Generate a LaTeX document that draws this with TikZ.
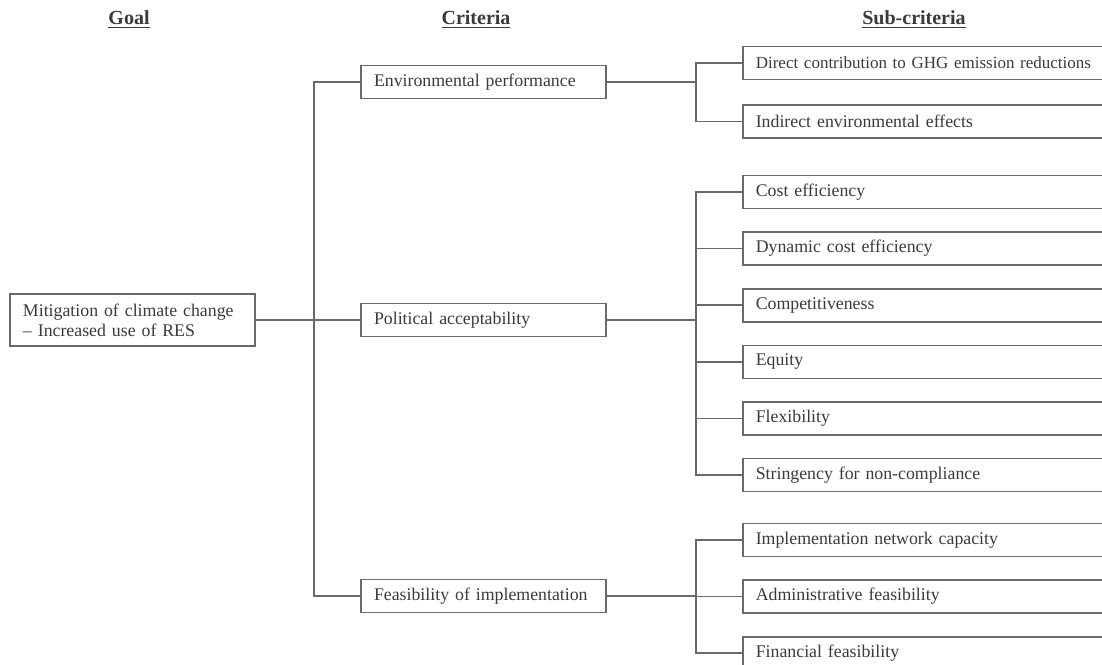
\documentclass[tikz,border=0pt]{standalone}
\usepackage{fontspec}
\setmainfont{Liberation Serif}
\usetikzlibrary{positioning}
\definecolor{grey1}{HTML}{3A3A3A}
\definecolor{grey2}{HTML}{6A6A6A}
\tikzset{critbox/.style={rectangle,draw=grey2,line width=0.8pt,text=grey1,text width=109.5pt,align=left,minimum height=16.5pt,inner xsep=6.5pt,inner ysep=2pt,font=\fontsize{8.9}{10}\selectfont}}
\tikzset{subbox/.style={critbox,text width=200pt}}
\tikzset{heading/.style={draw=none,text=grey1,font=\fontsize{10}{12}\selectfont\bfseries}}
\tikzset{link/.style={draw=grey2,line width=0.8pt}}

\begin{document}
\begin{tikzpicture}[x=0.5pt,y=-0.5pt]
        \useasboundingbox (0,0) rectangle (1102,664);
        \clip (0,0) rectangle (1102,664);

        \node[heading] (goal-head) at (129,20) {\underline{Goal}};
        \node[heading] (crit-head) at (476,20) {\underline{Criteria}};
        \node[heading] (sub-head) at (914,20) {\underline{Sub-criteria}};

        \node[critbox,minimum height=26pt] (goal) at (132.5,320) {Mitigation of climate change\\-- Increased use of RES};
        \node[critbox] (env) at (483.5,82) {Environmental performance};
        \node[critbox] (pol) at (483.5,320) {Political acceptability};
        \node[critbox] (feas) at (483.5,596) {Feasibility of implementation};

        \node[subbox,anchor=west,font=\fontsize{8.5}{10}\selectfont] (env-sub1) at (742,63) {Direct contribution to GHG emission reductions};
        \node[subbox,below=12pt of env-sub1] (env-sub2) {Indirect environmental effects};

        \node[subbox,anchor=west] (pol-sub1) at (742,192) {Cost efficiency};
        \node[subbox,below=11pt of pol-sub1] (pol-sub2) {Dynamic cost efficiency};
        \node[subbox,below=11pt of pol-sub2] (pol-sub3) {Competitiveness};
        \node[subbox,below=11pt of pol-sub3] (pol-sub4) {Equity};
        \node[subbox,below=11pt of pol-sub4] (pol-sub5) {Flexibility};
        \node[subbox,below=11pt of pol-sub5] (pol-sub6) {Stringency for non-compliance};

        \node[subbox,anchor=west] (feas-sub1) at (742,540) {Implementation network capacity};
        \node[subbox,below=11pt of feas-sub1] (feas-sub2) {Administrative feasibility};
        \node[subbox,below=11pt of feas-sub2] (feas-sub3) {Financial feasibility};

        \coordinate[left=23pt of env.west] (crit-bus);
        \coordinate[left=23pt of env-sub1.west] (env-bus);
        \coordinate[left=23pt of pol-sub1.west] (pol-bus);
        \coordinate[left=23pt of feas-sub1.west] (feas-bus);

        \draw[link] (goal) to (pol);
        \draw[link] (env.west) -- (crit-bus) |- (feas.west);

        \draw[link] (env.east) -- (env.east -| env-bus);
        \draw[link] (env-sub1.west) -- (env-bus) |- (env-sub2.west);

        \draw[link] (pol.east) -- (pol.east -| pol-bus);
        \draw[link] (pol-sub1.west) -- (pol-bus) |- (pol-sub6.west);
        \foreach \s in {pol-sub2,pol-sub3,pol-sub4,pol-sub5}
            \draw[link] (\s.west) -- (\s.west -| pol-bus);

        \draw[link] (feas.east) -- (feas.east -| feas-bus);
        \draw[link] (feas-sub1.west) -- (feas-bus) |- (feas-sub3.west);
        \draw[link] (feas-sub2.west) -- (feas-sub2.west -| feas-bus);
    \end{tikzpicture}
\end{document}
